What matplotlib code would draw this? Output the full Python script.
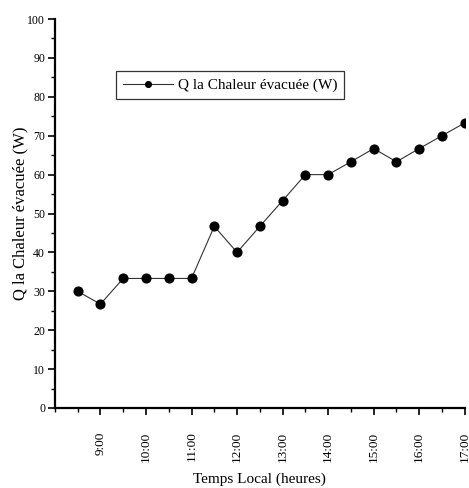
import matplotlib.pyplot as plt
from matplotlib.ticker import MultipleLocator

plt.rcParams["font.family"] = ["Liberation Serif", "DejaVu Serif"]

# time in decimal hours (8:30 -> 17:00 every half hour)
hours = [8.5, 9.0, 9.5, 10.0, 10.5, 11.0, 11.5, 12.0, 12.5,
         13.0, 13.5, 14.0, 14.5, 15.0, 15.5, 16.0, 16.5, 17.0]
q_heat = [30.0, 26.7, 33.3, 33.3, 33.3, 33.3, 46.7, 40.0, 46.7,
          53.3, 60.0, 60.0, 63.3, 66.7, 63.3, 66.7, 70.0, 73.3]
tick_hours = [9, 10, 11, 12, 13, 14, 15, 16, 17]
tick_labels = ["9:00", "10:00", "11:00", "12:00", "13:00",
               "14:00", "15:00", "16:00", "17:00"]

fig = plt.figure(figsize=(4.69, 4.88), dpi=100)
ax = fig.add_axes([0.117, 0.164, 0.874, 0.797])

ax.plot(hours, q_heat, color="#333333", linewidth=0.8,
        marker="o", markersize=6.3, markerfacecolor="black",
        markeredgecolor="black", label="Q la Chaleur évacuée (W)")

ax.set_xlim(8, 17)
ax.set_ylim(0, 100)
ax.set_xticks(tick_hours)
ax.set_xticklabels(tick_labels, rotation=90, fontsize=9.5)
ax.xaxis.set_minor_locator(MultipleLocator(0.5))
ax.yaxis.set_major_locator(MultipleLocator(10))
ax.yaxis.set_minor_locator(MultipleLocator(5))
ax.tick_params(axis="y", labelsize=8.5, pad=2)
ax.tick_params(axis="x", which="major", pad=12)
ax.tick_params(which="major", direction="out", length=5, width=1.2)
ax.tick_params(which="minor", direction="out", length=3, width=1.0)

for side in ("top", "right"):
    ax.spines[side].set_visible(False)
for side in ("left", "bottom"):
    ax.spines[side].set_linewidth(1.6)

ax.set_xlabel("Temps Local (heures)", fontsize=11, labelpad=8)
ax.set_ylabel("Q la Chaleur évacuée (W)", fontsize=12)
ax.yaxis.set_label_coords(-0.064, 0.5)

leg = ax.legend(loc="upper left", bbox_to_anchor=(0.13, 0.885), fontsize=11,
                frameon=True, fancybox=False, edgecolor="black",
                handlelength=3.3, markerscale=0.65, borderpad=0.45,
                handletextpad=0.3)
leg.get_frame().set_linewidth(0.9)

fig.savefig("out.png", dpi=100)
